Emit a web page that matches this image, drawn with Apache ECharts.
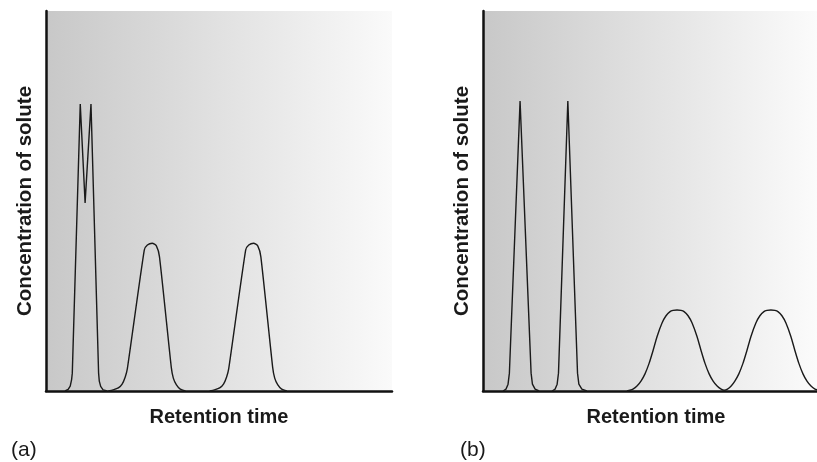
<!DOCTYPE html>
<html>
<head>
<meta charset="utf-8">
<script src="https://cdn.jsdelivr.net/npm/echarts@6/dist/echarts.min.js"></script>
<style>html,body{margin:0;padding:0;background:#fff}#c{width:817px;height:462px}</style>
</head>
<body>
<div id="c"></div>
<script>
// ---- Data (retention time in arbitrary units 0-100, concentration 0-100) ----
const xAxisTitle = 'Retention time';
const yAxisTitle = 'Concentration of solute';
const panelLabels = ['(a)', '(b)'];

// Panel (a): poorly resolved doublet + two broader peaks
const a_doublet_t = [5.5, 6.4, 7.0, 7.4, 7.6, 9.9, 11.3, 13.0, 15.2, 15.4, 15.8, 16.5, 17.7];
const a_doublet_c = [0, 0.4, 1.3, 3.0, 4.7, 75.5, 49.5, 75.5, 4.7, 2.6, 1.2, 0.3, 0];
const a_peak2_t = [18.0, 19.4, 20.9, 22.0, 22.9, 23.5, 28.4, 29.3, 30.7, 31.9, 32.8, 36.2, 36.8, 37.7, 38.8, 40.3];
const a_peak2_c = [0, 0.3, 0.8, 1.8, 3.7, 5.8, 37.1, 38.4, 38.9, 38.2, 35.3, 6.3, 3.4, 1.6, 0.5, 0];
const a_peak3_t = [47.3, 48.7, 50.2, 51.3, 52.2, 52.8, 57.7, 58.6, 60.0, 61.2, 62.1, 65.5, 66.1, 67.0, 68.1, 69.6];
const a_peak3_c = [0, 0.3, 0.8, 1.8, 3.7, 5.8, 37.1, 38.4, 38.9, 38.2, 35.3, 6.3, 3.4, 1.6, 0.5, 0];

// Panel (b): two sharp resolved peaks + two broad peaks
const b_sharp1_t = [6.0, 6.9, 7.5, 7.9, 11.1, 14.4, 14.8, 15.6, 16.8];
const b_sharp1_c = [0, 0.5, 1.8, 4.7, 76.3, 4.7, 1.8, 0.5, 0];
const b_sharp2_t = [20.7, 21.6, 22.2, 22.6, 25.4, 28.3, 28.7, 29.6, 31.1];
const b_sharp2_c = [0, 0.5, 1.8, 4.7, 76.3, 4.7, 1.8, 0.5, 0];
const b_broad_t = [43.1, 44.0, 44.9, 46.1, 47.3, 48.5, 49.7, 50.9, 52.1, 53.6, 54.8, 56.0, 56.9, 58.1,
                   59.3, 60.2, 61.4, 62.6, 64.1, 65.3, 66.5, 67.7, 68.9, 70.1, 71.3, 72.2,
                   73.2, 74.3, 75.4, 76.6, 77.8, 79.0, 80.2, 81.7, 82.9, 84.1, 85.0, 86.2,
                   87.4, 88.3, 89.5, 90.7, 92.2, 93.4, 94.6, 95.8, 97.0, 98.2, 99.4, 100];
const b_broad_c = [0, 0.2, 0.5, 1.3, 2.6, 4.5, 7.2, 10.6, 14.3, 17.9, 19.8, 20.9, 21.2, 21.3,
                   21.2, 20.9, 19.8, 17.9, 14.3, 10.6, 7.2, 4.5, 2.6, 1.3, 0.5, 0.2,
                   0.5, 1.3, 2.6, 4.5, 7.2, 10.6, 14.3, 17.9, 19.8, 20.9, 21.2, 21.3,
                   21.2, 20.9, 19.8, 17.9, 14.3, 10.6, 7.2, 4.5, 2.6, 1.3, 0.5, 0.3];

const zip = (t, c) => t.map((v, i) => [v, c[i]]);

const FONT = '"Liberation Sans", Arial, Helvetica, sans-serif';
const bg = (from, to) => ({type: 'linear', x: 0, y: 0, x2: 1, y2: 0,
  colorStops: [{offset: 0, color: from}, {offset: 1, color: to}]});

function axisX(gi, shift) {
  return {
    type: 'value', gridIndex: gi, min: 0, max: 100,
    axisLine: {show: true, lineStyle: {color: '#111', width: 2.5}},
    axisTick: {show: false}, axisLabel: {show: false}, splitLine: {show: false},
    name: xAxisTitle, nameLocation: 'middle', nameGap: 16,
    nameTextStyle: {fontFamily: FONT, fontSize: 20, fontWeight: 'bold', color: '#1a1a1a',
      verticalAlign: 'top', padding: [0, 0, 0, shift]}
  };
}
function axisY(gi) {
  return {
    type: 'value', gridIndex: gi, min: 0, max: 100,
    axisLine: {show: true, lineStyle: {color: '#111', width: 2.5}},
    axisTick: {show: false}, axisLabel: {show: false}, splitLine: {show: false},
    name: yAxisTitle, nameLocation: 'middle', nameGap: 10,
    nameTextStyle: {fontFamily: FONT, fontSize: 20.5, fontWeight: 'bold', color: '#1a1a1a'}
  };
}
function lineSeries(gi, data, smooth) {
  return {
    type: 'line', xAxisIndex: gi, yAxisIndex: gi, data: data, smooth: smooth,
    showSymbol: false, silent: true, animation: false,
    lineStyle: {color: '#1a1a1a', width: 1.4}
  };
}

const chart = echarts.init(document.getElementById('c'), null, {renderer: 'canvas'});
chart.setOption({
  animation: false,
  backgroundColor: '#ffffff',
  title: [
    {text: panelLabels[0], left: 6, top: 435, textStyle: {fontFamily: FONT, fontSize: 21, fontWeight: 'normal', color: '#1a1a1a'}},
    {text: panelLabels[1], left: 455, top: 435, textStyle: {fontFamily: FONT, fontSize: 21, fontWeight: 'normal', color: '#1a1a1a'}}
  ],
  grid: [
    {left: 46, right: 425, top: 11, bottom: 71, show: true, borderWidth: 0, backgroundColor: bg('#c8c8c8', '#fafafa')},
    {left: 483, right: 0, top: 11, bottom: 71, show: true, borderWidth: 0, backgroundColor: bg('#c8c8c8', '#fbfbfb')}
  ],
  xAxis: [axisX(0, 0), axisX(1, 12)],
  yAxis: [axisY(0), axisY(1)],
  series: [
    lineSeries(0, zip(a_doublet_t, a_doublet_c), false),
    lineSeries(0, zip(a_peak2_t, a_peak2_c), 0.2),
    lineSeries(0, zip(a_peak3_t, a_peak3_c), 0.2),
    lineSeries(1, zip(b_sharp1_t, b_sharp1_c), false),
    lineSeries(1, zip(b_sharp2_t, b_sharp2_c), false),
    lineSeries(1, zip(b_broad_t, b_broad_c), 0.2)
  ]
});
</script>
</body>
</html>
